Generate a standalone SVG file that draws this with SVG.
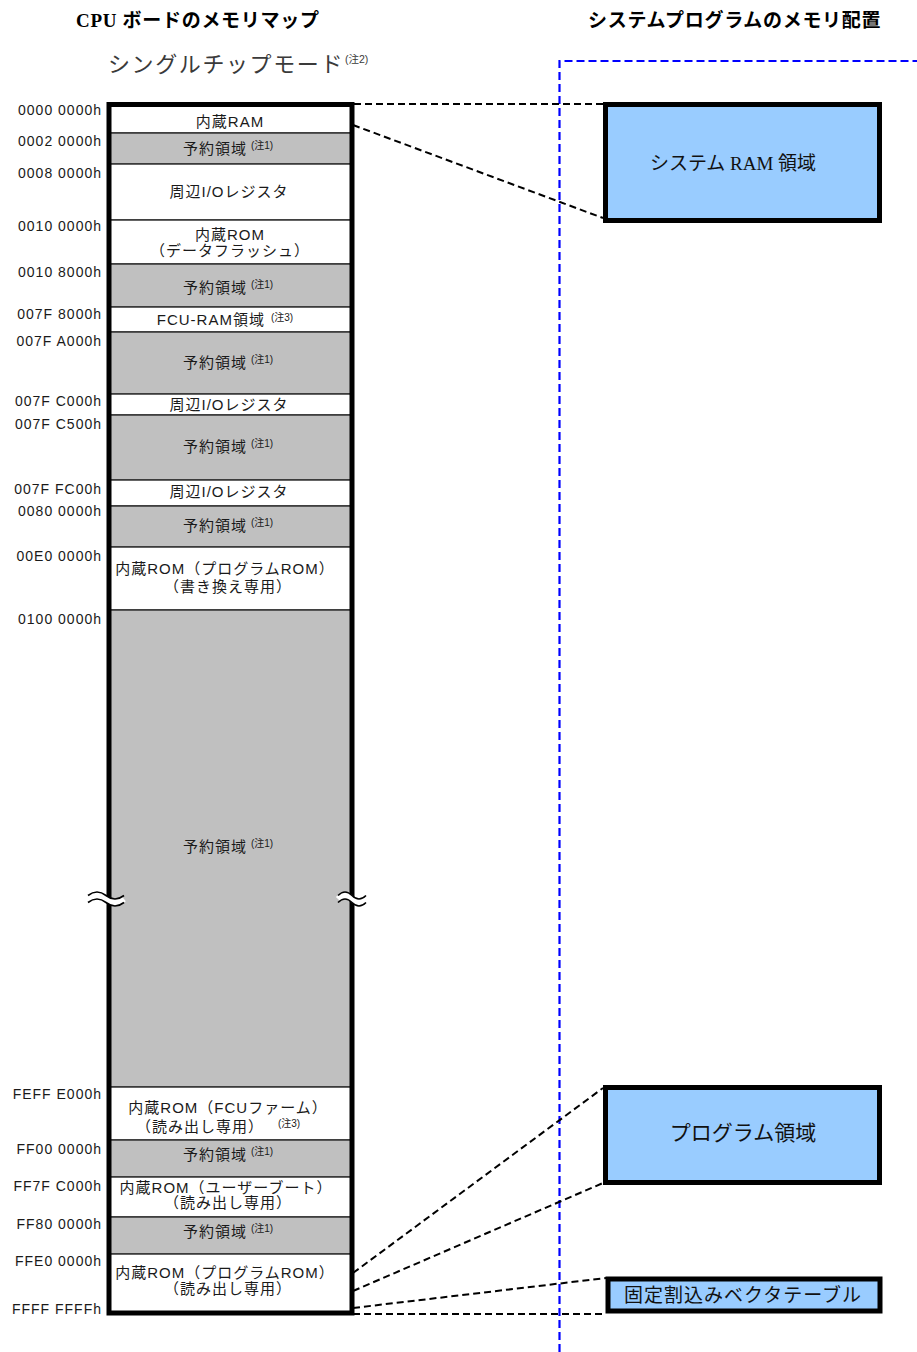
<svg xmlns="http://www.w3.org/2000/svg" width="917" height="1352" viewBox="0 0 917 1352">
<style>
.title{font-family:"Liberation Serif","Noto Sans CJK JP",serif;font-weight:bold;font-size:19px;fill:#000;letter-spacing:0.7px}
.mode{font-family:"Liberation Sans","Noto Sans CJK JP",sans-serif;font-size:22px;fill:#3a3a3a;letter-spacing:1.6px}
.addr{font-family:"Liberation Sans","Noto Sans CJK JP",sans-serif;font-size:14px;fill:#1a1a1a;letter-spacing:1px;text-anchor:end}
.cell{font-family:"Liberation Sans","Noto Sans CJK JP",sans-serif;font-size:15px;fill:#1a1a1a;letter-spacing:1px;text-anchor:middle}
.note{font-size:10px;letter-spacing:0}
.w{fill:#ffffff;stroke:#333;stroke-width:1.5}
.g{fill:#c0c0c0;stroke:#333;stroke-width:1.5}
.box{fill:#99ccff;stroke:#000;stroke-width:5}
.boxt{font-family:"Liberation Serif","Noto Sans CJK JP",serif;fill:#111;text-anchor:middle}
.dash{fill:none;stroke:#000;stroke-width:2;stroke-dasharray:7 4}
.blue{fill:none;stroke:#0000ff;stroke-width:2.2;stroke-dasharray:8 4}
</style>

<g id="titles">
<text class="title" x="76" y="27">CPU ボードのメモリマップ</text>
<text class="title" x="588" y="27">システムプログラムのメモリ配置</text>
<text class="mode" x="108" y="72">シングルチップモード<tspan style="font-size:10.5px;letter-spacing:0" dx="1" dy="-9">(注2)</tspan></text>
</g>

<g id="blue-frame">
<path class="blue" d="M559.5,1352 V61 H917"/>
</g>

<g id="connectors">
<line class="dash" x1="354" y1="104" x2="603" y2="104"/>
<line class="dash" x1="353" y1="125" x2="603" y2="218"/>
<line class="dash" x1="353" y1="1273" x2="603" y2="1088"/>
<line class="dash" x1="353" y1="1291" x2="603" y2="1183"/>
<line class="dash" x1="353" y1="1308" x2="606" y2="1278"/>
<line class="dash" x1="353" y1="1314" x2="606" y2="1314"/>
</g>

<g id="memory-map">
<g id="cell-ram"><rect class="w" x="109" y="104" width="243" height="29"/><text class="cell" x="230" y="127">内蔵RAM</text></g>
<g id="cell-rsv1"><rect class="g" x="109" y="133" width="243" height="31"/><text class="cell" x="228" y="154">予約領域<tspan class="note" dx="4" dy="-5">(注1)</tspan></text></g>
<g id="cell-io1"><rect class="w" x="109" y="164" width="243" height="56"/><text class="cell" x="229" y="197">周辺I/Oレジスタ</text></g>
<g id="cell-dataflash"><rect class="w" x="109" y="220" width="243" height="44"/><text class="cell" x="230" y="240">内蔵ROM</text><text class="cell" x="230" y="256">（データフラッシュ）</text></g>
<g id="cell-rsv2"><rect class="g" x="109" y="264" width="243" height="43"/><text class="cell" x="228" y="293">予約領域<tspan class="note" dx="4" dy="-5">(注1)</tspan></text></g>
<g id="cell-fcuram"><rect class="w" x="109" y="307" width="243" height="25"/><text class="cell" x="225" y="325">FCU-RAM領域<tspan class="note" dx="6" dy="-4">(注3)</tspan></text></g>
<g id="cell-rsv3"><rect class="g" x="109" y="332" width="243" height="62"/><text class="cell" x="228" y="368">予約領域<tspan class="note" dx="4" dy="-5">(注1)</tspan></text></g>
<g id="cell-io2"><rect class="w" x="109" y="394" width="243" height="21"/><text class="cell" x="229" y="410">周辺I/Oレジスタ</text></g>
<g id="cell-rsv4"><rect class="g" x="109" y="415" width="243" height="65"/><text class="cell" x="228" y="452">予約領域<tspan class="note" dx="4" dy="-5">(注1)</tspan></text></g>
<g id="cell-io3"><rect class="w" x="109" y="480" width="243" height="26"/><text class="cell" x="229" y="497">周辺I/Oレジスタ</text></g>
<g id="cell-rsv5"><rect class="g" x="109" y="506" width="243" height="41"/><text class="cell" x="228" y="531">予約領域<tspan class="note" dx="4" dy="-5">(注1)</tspan></text></g>
<g id="cell-progrom-rw"><rect class="w" x="109" y="547" width="243" height="63"/><text class="cell" x="225" y="574">内蔵ROM（プログラムROM）</text><text class="cell" x="228" y="592">（書き換え専用）</text></g>
<g id="cell-rsv6"><rect class="g" x="109" y="610" width="243" height="477"/><text class="cell" x="228" y="852">予約領域<tspan class="note" dx="4" dy="-5">(注1)</tspan></text></g>
<g id="cell-fcufirm"><rect class="w" x="109" y="1087" width="243" height="53"/><text class="cell" x="228" y="1113">内蔵ROM（FCUファーム）</text><text class="cell" x="218" y="1132">（読み出し専用）<tspan class="note" dx="14" dy="-5">(注3)</tspan></text></g>
<g id="cell-rsv7"><rect class="g" x="109" y="1140" width="243" height="37"/><text class="cell" x="228" y="1160">予約領域<tspan class="note" dx="4" dy="-5">(注1)</tspan></text></g>
<g id="cell-userboot"><rect class="w" x="109" y="1177" width="243" height="40"/><text class="cell" x="226" y="1193">内蔵ROM（ユーザーブート）</text><text class="cell" x="228" y="1208">（読み出し専用）</text></g>
<g id="cell-rsv8"><rect class="g" x="109" y="1217" width="243" height="37"/><text class="cell" x="228" y="1237">予約領域<tspan class="note" dx="4" dy="-5">(注1)</tspan></text></g>
<g id="cell-progrom-ro"><rect class="w" x="109" y="1254" width="243" height="59"/><text class="cell" x="225" y="1278">内蔵ROM（プログラムROM）</text><text class="cell" x="228" y="1294">（読み出し専用）</text></g>
<rect x="109" y="104.5" width="243" height="1208.5" fill="none" stroke="#000" stroke-width="5"/>
<g id="break-marks" fill="none">
<path d="M88,899 q9,-7 18,0 t18,0" stroke="#fff" stroke-width="6"/>
<path d="M88,895.5 q9,-7 18,0 t18,0" stroke="#000" stroke-width="1.6"/>
<path d="M88,902.5 q9,-7 18,0 t18,0" stroke="#000" stroke-width="1.6"/>
<path d="M338,899 q7,-7 14,0 t14,0" stroke="#fff" stroke-width="6"/>
<path d="M338,895.5 q7,-7 14,0 t14,0" stroke="#000" stroke-width="1.6"/>
<path d="M338,902.5 q7,-7 14,0 t14,0" stroke="#000" stroke-width="1.6"/>
</g>
</g>

<g id="addresses">
<text class="addr" x="102" y="115">0000 0000h</text>
<text class="addr" x="102" y="146">0002 0000h</text>
<text class="addr" x="102" y="178">0008 0000h</text>
<text class="addr" x="102" y="231">0010 0000h</text>
<text class="addr" x="102" y="277">0010 8000h</text>
<text class="addr" x="102" y="319">007F 8000h</text>
<text class="addr" x="102" y="346">007F A000h</text>
<text class="addr" x="102" y="406">007F C000h</text>
<text class="addr" x="102" y="429">007F C500h</text>
<text class="addr" x="102" y="494">007F FC00h</text>
<text class="addr" x="102" y="516">0080 0000h</text>
<text class="addr" x="102" y="561">00E0 0000h</text>
<text class="addr" x="102" y="624">0100 0000h</text>
<text class="addr" x="102" y="1099">FEFF E000h</text>
<text class="addr" x="102" y="1154">FF00 0000h</text>
<text class="addr" x="102" y="1191">FF7F C000h</text>
<text class="addr" x="102" y="1229">FF80 0000h</text>
<text class="addr" x="102" y="1266">FFE0 0000h</text>
<text class="addr" x="102" y="1314">FFFF FFFFh</text>
</g>

<g id="system-ram">
<rect class="box" x="605.5" y="104.5" width="274" height="116"/>
<text class="boxt" x="733" y="170" font-size="19">システム RAM 領域</text>
</g>
<g id="program-area">
<rect class="box" x="605.5" y="1087.5" width="274" height="95"/>
<text class="boxt" x="743" y="1140" font-size="21">プログラム領域</text>
</g>
<g id="vector-table">
<rect class="box" x="608" y="1279" width="272" height="32" stroke-width="4"/>
<text class="boxt" x="743" y="1302" font-size="19" letter-spacing="1">固定割込みベクタテーブル</text>
</g>
</svg>
